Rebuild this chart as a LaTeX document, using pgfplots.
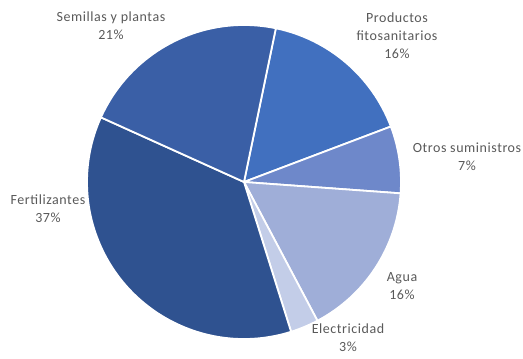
\documentclass[border=0pt]{standalone}
\usepackage{pgfplots}
\pgfplotsset{compat=1.18}
\usepackage{fontspec}
\setmainfont{Carlito}[LetterSpace=4]

\definecolor{cProd}{HTML}{4170BF}
\definecolor{cOtros}{HTML}{6E88CA}
\definecolor{cAgua}{HTML}{9FAED8}
\definecolor{cElec}{HTML}{C3CDE8}
\definecolor{cFert}{HTML}{2F5290}
\definecolor{cSem}{HTML}{3A5FA6}
\definecolor{labelgray}{HTML}{595959}

\begin{document}
\begin{tikzpicture}
\begin{axis}[
    width=523pt, height=356pt,
    scale only axis,
    xmin=0, xmax=523,
    ymin=0, ymax=356,
    hide axis,
    clip=false,
]
% slices clockwise from the top, shares in percent
\def\startA{78.3}
\foreach \v/\c in {16.0/cProd,6.9/cOtros,16.1/cAgua,2.9/cElec,36.6/cFert,21.5/cSem}{
    \pgfmathsetmacro\endA{\startA-3.6*\v}
    \edef\temp{\noexpand\fill[\c, draw=white, line width=1.8pt, line join=round]
        (axis cs:244,174) -- ++(\startA:157pt)
        arc[start angle=\startA, end angle=\endA, radius=157pt] -- cycle;}
    \temp
    \xdef\startA{\endA}
}
\tikzset{lbl/.style={text=labelgray, align=center, inner sep=0pt,
    font=\fontsize{14}{18}\selectfont}}
\node[lbl] at (axis cs:111,330) {Semillas y plantas\\21\%};
\node[lbl] at (axis cs:397,320.5) {Productos\\fitosanitarios\\16\%};
\node[lbl] at (axis cs:467,199.5) {Otros suministros\\7\%};
\node[lbl] at (axis cs:48,147) {Fertilizantes\\37\%};
\node[lbl] at (axis cs:402,70) {Agua\\16\%};
\node[lbl] at (axis cs:348,18) {Electricidad\\3\%};
\end{axis}
\path (current axis.south west) rectangle (current axis.north east);
\end{tikzpicture}
\end{document}
